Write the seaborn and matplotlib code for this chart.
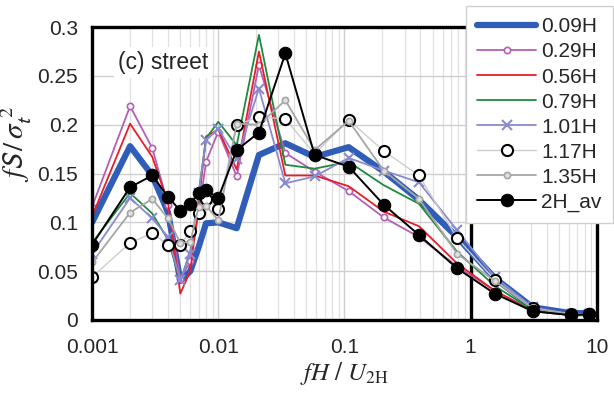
import numpy as np
import pandas as pd
import matplotlib
matplotlib.use("Agg")
import matplotlib.pyplot as plt
import seaborn as sns

# frequencies fH/U_2H
freq = [0.001, 0.002, 0.003, 0.004, 0.005, 0.006, 0.007, 0.008, 0.01, 0.014,
        0.021, 0.034, 0.058, 0.108, 0.205, 0.39, 0.78, 1.55, 3.1, 6.2, 8.6]

h009 = [0.100, 0.178, 0.148, 0.110, 0.040, 0.050, 0.075, 0.099, 0.100, 0.094,
        0.169, 0.181, 0.167, 0.177, 0.152, 0.123, 0.085, 0.043, 0.013, 0.007, 0.007]
h029 = [0.116, 0.219, 0.176, 0.118, 0.042, 0.060, 0.110, 0.162, 0.193, 0.147,
        0.261, 0.171, 0.152, 0.132, 0.105, 0.085, 0.055, 0.030, 0.010, 0.005, 0.005]
h056 = [0.106, 0.201, 0.167, 0.120, 0.027, 0.050, 0.120, 0.188, 0.195, 0.154,
        0.275, 0.148, 0.148, 0.137, 0.111, 0.096, 0.058, 0.030, 0.009, 0.005, 0.005]
h079 = [0.079, 0.130, 0.109, 0.082, 0.040, 0.070, 0.130, 0.186, 0.203, 0.179,
        0.292, 0.159, 0.155, 0.162, 0.138, 0.119, 0.070, 0.035, 0.010, 0.005, 0.005]
h101 = [0.068, 0.125, 0.104, 0.085, 0.041, 0.068, 0.130, 0.184, 0.196, 0.165,
        0.237, 0.140, 0.147, 0.166, 0.153, 0.141, 0.092, 0.044, 0.013, 0.006, 0.006]
h117 = [0.044, 0.079, 0.089, 0.077, 0.077, 0.091, 0.110, 0.124, 0.114, 0.200,
        0.208, 0.206, 0.170, 0.205, 0.173, 0.148, 0.084, 0.041, 0.012, 0.006, 0.006]
h135 = [0.059, 0.110, 0.124, 0.104, 0.079, 0.080, 0.116, 0.117, 0.102, 0.201,
        0.200, 0.225, 0.174, 0.204, 0.153, 0.124, 0.068, 0.040, 0.012, 0.006, 0.006]
h2av = [0.077, 0.136, 0.148, 0.126, 0.112, 0.119, 0.130, 0.133, 0.125, 0.174,
        0.192, 0.273, 0.169, 0.157, 0.118, 0.087, 0.053, 0.027, 0.009, 0.005, 0.006]

labels = ["0.09H", "0.29H", "0.56H", "0.79H", "1.01H", "1.17H", "1.35H", "2H_av"]
series = [h009, h029, h056, h079, h101, h117, h135, h2av]

styles = [
    dict(color="#2f5db8", lw=4.5, marker=None),
    dict(color="#b45fb4", lw=1.3, marker="o", ms=4.5, mfc="white", mew=1.2),
    dict(color="#e61e28", lw=1.3, marker=None),
    dict(color="#1f8a3e", lw=1.3, marker=None),
    dict(color="#8a8ad0", lw=1.3, marker="x", ms=7, mew=1.5),
    dict(color="#cdcdcd", lw=1.0, marker="o", ms=8, mfc="white", mec="black", mew=1.5),
    dict(color="#a6a6a6", lw=1.3, marker="o", ms=4.5, mfc="#e0e0e0", mew=1.2),
    dict(color="black", lw=1.4, marker="o", ms=9, mfc="black", mec="black"),
]

sns.set_style("white")
plt.rcParams["font.family"] = ["Liberation Sans", "DejaVu Sans"]
plt.rcParams["mathtext.fontset"] = "stix"

fig = plt.figure(figsize=(6.14, 3.98), dpi=100)
ax = fig.add_axes([0.150, 0.196, 0.822, 0.736])

for lab, vals, st in zip(labels, series, styles):
    df = pd.DataFrame({"f": freq, "v": vals})
    kw = dict(st)
    marker = kw.pop("marker")
    sns.lineplot(data=df, x="f", y="v", ax=ax, label=lab, sort=False,
                 estimator=None, marker=marker if marker else "",
                 markeredgecolor=kw.pop("mec", kw["color"]), **kw)

ax.set_xscale("log")
ax.set_xlim(0.001, 10)
ax.set_ylim(0, 0.3)
ax.set_yticks([0, 0.05, 0.1, 0.15, 0.2, 0.25, 0.3])
ax.set_yticklabels(["0", "0.05", "0.1", "0.15", "0.2", "0.25", "0.3"])
ax.set_xticks([0.001, 0.01, 0.1, 1, 10])
ax.set_xticklabels(["0.001", "0.01", "0.1", "1", "10"])
ax.xaxis.set_minor_locator(matplotlib.ticker.LogLocator(base=10, subs=np.arange(2, 10)))
ax.xaxis.set_minor_formatter(matplotlib.ticker.NullFormatter())

ax.grid(True, which="major", axis="both", color="#cfcfcf", lw=1.0)
ax.grid(True, which="minor", axis="x", color="#e0e0e0", lw=0.9)
ax.set_axisbelow(True)

ax.tick_params(axis="x", which="major", direction="inout", length=10, width=2.5,
               labelsize=15, pad=8, color="black")
ax.tick_params(axis="x", which="minor", length=0)
ax.tick_params(axis="y", length=0, labelsize=15, pad=10)

for sp in ax.spines.values():
    sp.set_linewidth(2.4)
    sp.set_color("black")
ax.axvline(1, color="black", lw=2.4, zorder=1.5)

ax.set_xlabel(r"$fH\ /\ U_{\rm 2H}$", fontsize=18, labelpad=2)
ax.set_ylabel(r"$f\mathsf{S}\,/\,\sigma_{\mathsf{t}}^{\ 2}$", fontsize=21)
ax.yaxis.set_label_coords(-0.115, 0.60)

ax.text(0.051, 0.88, "(c) street", transform=ax.transAxes, fontsize=16.5,
        va="center", ha="left", bbox=dict(facecolor="white", edgecolor="none", pad=3))

ax.get_legend().remove()
handles, labs = ax.get_legend_handles_labels()
leg = fig.legend(handles, labs, loc="upper left", bbox_to_anchor=(0.759, 0.985),
                 fontsize=15, frameon=True, fancybox=False, edgecolor="#d0d0d0",
                 framealpha=1, handlelength=2.8, handletextpad=0.25,
                 labelspacing=0.29, borderpad=0.55, borderaxespad=0)
leg.get_frame().set_linewidth(1.0)

fig.savefig("out.png", dpi=100)
